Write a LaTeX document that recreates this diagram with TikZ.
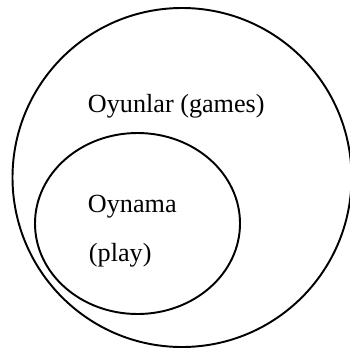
\documentclass[tikz,border=0pt]{standalone}
\usepackage{fontspec}
\setmainfont{Liberation Serif}
\begin{document}
\begin{tikzpicture}[x=0.02cm, y=0.02cm, line width=1.1pt]
    \useasboundingbox (0,0) rectangle (350,349);
    \clip (0,0) rectangle (350,349);
    \tikzset{lbl/.style={anchor=base west, inner sep=0pt, font=\fontsize{14.9}{18}\selectfont}}

    % outer set (games)
    \coordinate (g) at (182,171.5);
    \draw (g) circle (169.5);
    \node[lbl] (games) at (87,237) {Oyunlar (games)};

    % inner set (play)
    \coordinate (p) at (137.5,125.5);
    \draw (p) ellipse (102.5 and 90.5);
    \node[lbl] (oynama) at (87,137) {Oynama};
    \node[lbl] (play) at (88,88) {(play)};
\end{tikzpicture}
\end{document}
